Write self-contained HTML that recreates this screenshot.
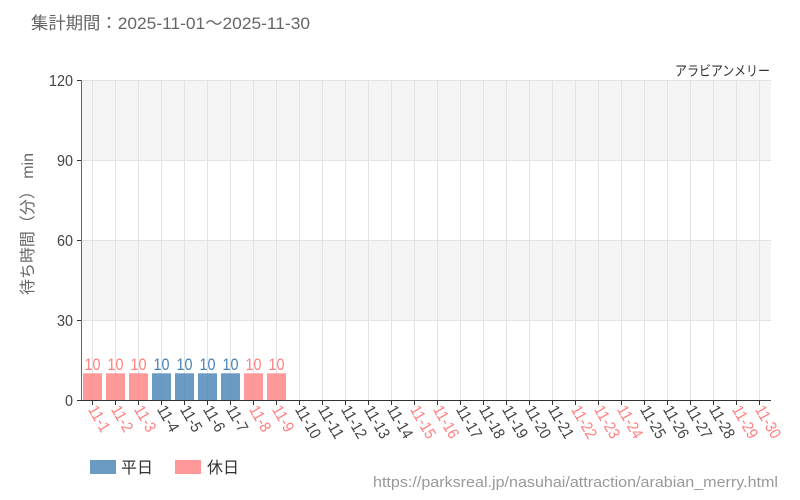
<!DOCTYPE html>
<html><head><meta charset="utf-8"><style>
html,body{margin:0;padding:0;background:#fff;}
svg{display:block;}
text{font-family:"Liberation Sans","Noto Sans CJK JP",sans-serif;}
</style></head><body>
<svg width="800" height="500" viewBox="0 0 800 500" xmlns="http://www.w3.org/2000/svg">
<rect width="800" height="500" fill="#fff"/>
<text x="31" y="29" font-size="17" fill="#666" textLength="279" lengthAdjust="spacingAndGlyphs">集計期間：2025-11-01～2025-11-30</text>
<text x="770" y="76" font-size="14" fill="#333" text-anchor="end" textLength="95" lengthAdjust="spacingAndGlyphs">アラビアンメリー</text>
<rect x="81" y="80" width="690" height="80" fill="#f5f5f5"/>
<rect x="81" y="240" width="690" height="80" fill="#f5f5f5"/>
<g stroke="#e3e3e3" stroke-width="1">
<line x1="81" y1="80.5" x2="771" y2="80.5"/>
<line x1="81" y1="160.5" x2="771" y2="160.5"/>
<line x1="81" y1="240.5" x2="771" y2="240.5"/>
<line x1="81" y1="320.5" x2="771" y2="320.5"/>
</g>
<g id="vgrid" stroke="#e3e3e3" stroke-width="1"></g>
<g id="bars"></g>
<line x1="81.5" y1="80" x2="81.5" y2="400" stroke="#666" stroke-width="1"/>
<g stroke="#333" stroke-width="1">
<line x1="77" y1="80.5" x2="81" y2="80.5"/>
<line x1="77" y1="160.5" x2="81" y2="160.5"/>
<line x1="77" y1="240.5" x2="81" y2="240.5"/>
<line x1="77" y1="320.5" x2="81" y2="320.5"/>
<line x1="77" y1="400.5" x2="81" y2="400.5"/>
</g>
<line x1="81" y1="400.5" x2="771" y2="400.5" stroke="#333" stroke-width="1"/>
<g id="xticks" stroke="#333" stroke-width="1"></g>
<g font-size="16" fill="#444" text-anchor="end">
<text x="73" y="86" textLength="24" lengthAdjust="spacingAndGlyphs">120</text>
<text x="73" y="166" textLength="16" lengthAdjust="spacingAndGlyphs">90</text>
<text x="73" y="246" textLength="16" lengthAdjust="spacingAndGlyphs">60</text>
<text x="73" y="326" textLength="16" lengthAdjust="spacingAndGlyphs">30</text>
<text x="73" y="406" textLength="8" lengthAdjust="spacingAndGlyphs">0</text>
</g>
<text transform="translate(33,224) rotate(-90)" font-size="16" fill="#666" text-anchor="middle" textLength="142" lengthAdjust="spacingAndGlyphs">待ち時間（分） min</text>
<g id="xlabels" font-size="16"></g>
<rect x="90" y="460" width="26" height="14" fill="#6b9bc3"/>
<text x="121" y="473" font-size="16" fill="#333">平日</text>
<rect x="175" y="460" width="26" height="14" fill="#ff9999"/>
<text x="207" y="473" font-size="16" fill="#333">休日</text>
<text x="778" y="487" font-size="15" fill="#999" text-anchor="end" textLength="405" lengthAdjust="spacingAndGlyphs">https://parksreal.jp/nasuhai/attraction/arabian_merry.html</text>
</svg>
<script>
(function(){
var ns="http://www.w3.org/2000/svg";
var hol={1:1,2:1,3:1,8:1,9:1,15:1,16:1,22:1,23:1,24:1,29:1,30:1};
var vg=document.getElementById("vgrid"),bars=document.getElementById("bars"),xt=document.getElementById("xticks"),xl=document.getElementById("xlabels");
function el(t,a,p){var e=document.createElementNS(ns,t);for(var k in a)e.setAttribute(k,a[k]);p.appendChild(e);return e;}
for(var i=0;i<30;i++){
 var d=i+1,cx=92.5+23*i,h=!!hol[d];
 el("line",{x1:cx,y1:80,x2:cx,y2:400},vg);
 el("line",{x1:cx,y1:400,x2:cx,y2:405},xt);
 var s="11-"+d;
 var len=(s.length-1)*7.6+5;
 var t=el("text",{x:cx-1,y:407,transform:"rotate(60 "+(cx-1)+" 407)","dominant-baseline":"central",fill:h?"#ff8080":"#444",textLength:len,lengthAdjust:"spacingAndGlyphs"},xl);
 t.textContent=s;
 if(d<=9){
  el("rect",{x:cx-9.5,y:373.3,width:19,height:26.7,fill:h?"#ff7f7f":"#4682b4","fill-opacity":0.8},bars);
  var lb=el("text",{x:cx,y:370,"text-anchor":"middle","font-size":17,fill:h?"#ff7f7f":"#4682b4",textLength:16,lengthAdjust:"spacingAndGlyphs"},bars);
  lb.textContent="10";
 }
}
})();
</script>
</body></html>
